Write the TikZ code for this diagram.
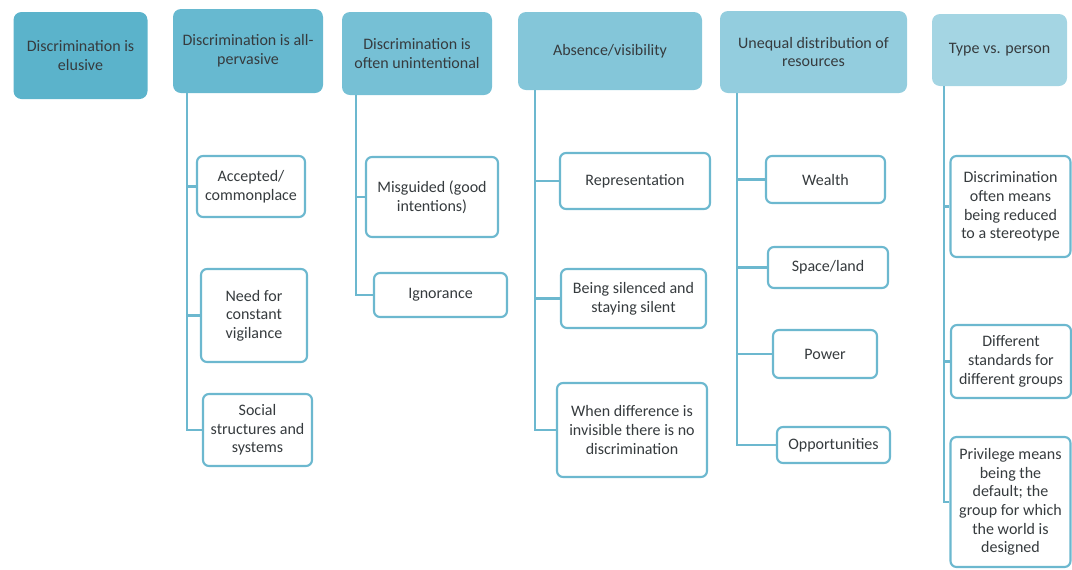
\documentclass[tikz,border=0pt]{standalone}
\usepackage{fontspec}
\setmainfont{Carlito}
\usetikzlibrary{calc}

\definecolor{edgeblue}{HTML}{6CB8CF}
\definecolor{headA}{HTML}{5BB3CB}
\definecolor{headB}{HTML}{67B9D0}
\definecolor{headC}{HTML}{76C0D5}
\definecolor{headD}{HTML}{84C6D9}
\definecolor{headE}{HTML}{93CDDE}
\definecolor{headF}{HTML}{A4D5E3}
\definecolor{inktext}{HTML}{363B3E}

\tikzset{
	head/.style n args={3}{rectangle, rounded corners=6pt, fill=#3, draw=none,
		minimum width=#1*0.75pt, minimum height=#2*0.75pt, inner sep=0pt,
		align=center, text=inktext, font=\fontsize{12}{14}\selectfont},
	leaf/.style 2 args={rectangle, rounded corners=4.5pt, draw=edgeblue, fill=white,
		line width=1.6pt, minimum width=#1*0.75pt, minimum height=#2*0.75pt,
		inner sep=0pt, align=center, text=inktext, font=\fontsize{12}{14}\selectfont},
	link/.style={draw=edgeblue, line width=1.8pt}
}

\begin{document}
\begin{tikzpicture}[x=0.75pt, y=-0.75pt]
			%%%%% START %%%%%
			\useasboundingbox (0, 0) rectangle (1072, 569);
			
			% headers
			\node[head={134}{87}{headA}] (h1) at (80.5, 55.5) {Discrimination is\\elusive};
			\node[head={150}{84}{headB}] (h2) at (248, 51) {Discrimination is all-\\pervasive};
			\node[head={150}{83}{headC}] (h3) at (417, 53.5) {Discrimination is\\often unintentional};
			\node[head={184}{78}{headD}] (h4) at (610, 51) {Absence/visibility};
			\node[head={187}{82}{headE}] (h5) at (813.5, 52) {Unequal distribution of\\resources};
			\node[head={135}{72}{headF}] (h6) at (999.5, 50) {Type vs. person};
			
			% all-pervasive
			\node[leaf={108}{61}] (c21) at (251, 186.5) {Accepted/\\commonplace};
			\node[leaf={106}{93}] (c22) at (254, 315.5) {Need for\\constant\\vigilance};
			\node[leaf={109}{72}] (c23) at (257.5, 430) {Social\\structures and\\systems};
			
			% unintentional
			\node[leaf={132}{80}] (c31) at (432, 197) {Misguided (good\\intentions)};
			\node[leaf={133}{44}] (c32) at (440.5, 295) {Ignorance};
			
			% absence/visibility
			\node[leaf={150}{56}] (c41) at (635, 181) {Representation};
			\node[leaf={145}{59}] (c42) at (633.5, 298.5) {Being silenced and\\staying silent};
			\node[leaf={150}{94}] (c43) at (632, 430) {When difference is\\invisible there is no\\discrimination};
			
			% resources
			\node[leaf={119}{47}] (c51) at (825.5, 179.5) {Wealth};
			\node[leaf={120}{41}] (c52) at (828, 267.5) {Space/land};
			\node[leaf={104}{48}] (c53) at (825, 354) {Power};
			\node[leaf={113}{36}] (c54) at (833.5, 445) {Opportunities};
			
			% type vs. person
			\node[leaf={120}{101}] (c61) at (1010.5, 206.5) {Discrimination\\often means\\being reduced\\to a stereotype};
			\node[leaf={120}{73}] (c62) at (1011, 361.5) {Different\\standards for\\different groups};
			\node[leaf={120}{130}] (c63) at (1010.5, 502) {Privilege means\\being the\\default; the\\group for which\\the world is\\designed};
			
			% connectors
			\draw[link] ($(h2.south west)+(14, 0)$) |- (c21.west);
			\draw[link] ($(h2.south west)+(14, 0)$) |- (c22.west);
			\draw[link] ($(h2.south west)+(14, 0)$) |- (c23.west);
			
			\draw[link] ($(h3.south west)+(14, 0)$) |- (c31.west);
			\draw[link] ($(h3.south west)+(14, 0)$) |- (c32.west);
			
			\draw[link] ($(h4.south west)+(17, 0)$) |- (c41.west);
			\draw[link] ($(h4.south west)+(17, 0)$) |- (c42.west);
			\draw[link] ($(h4.south west)+(17, 0)$) |- (c43.west);
			
			\draw[link] ($(h5.south west)+(17, 0)$) |- (c51.west);
			\draw[link] ($(h5.south west)+(17, 0)$) |- (c52.west);
			\draw[link] ($(h5.south west)+(17, 0)$) |- (c53.west);
			\draw[link] ($(h5.south west)+(17, 0)$) |- (c54.west);
			
			\draw[link] ($(h6.south west)+(12, 0)$) |- (c61.west);
			\draw[link] ($(h6.south west)+(12, 0)$) |- (c62.west);
			\draw[link] ($(h6.south west)+(12, 0)$) |- (c63.west);
			
			%%%%% END %%%%%
\end{tikzpicture}
\end{document}
